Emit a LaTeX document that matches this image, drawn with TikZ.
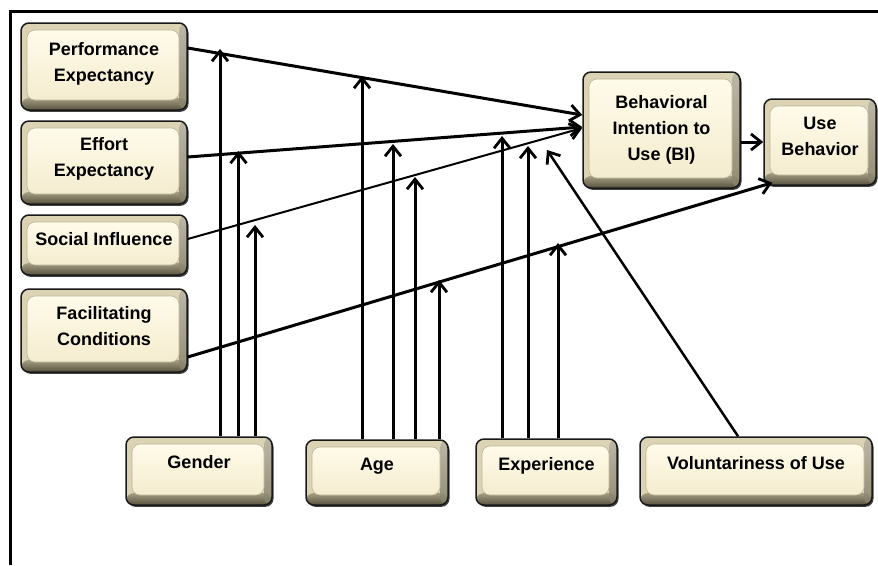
\documentclass[tikz,border=0pt]{standalone}
\usepackage{fontspec}
\setmainfont{Liberation Sans}
\usetikzlibrary{arrows.meta,calc,shadows}
\definecolor{bevBase}{HTML}{DBD3B4}
\definecolor{bevDarkA}{HTML}{A69E84}
\definecolor{bevDarkB}{HTML}{57523F}
\definecolor{bevRight}{HTML}{868069}
\definecolor{faceTop}{HTML}{FFFBEA}
\definecolor{faceBot}{HTML}{F4ECCF}
\definecolor{faceEdge}{HTML}{BDB596}
\newcommand\lbl[2]{\raisebox{#1}[\height][\depth]{\begin{tabular}{@{}c@{}}#2\end{tabular}}}
\tikzset{
  box/.style={draw=black!90, line width=1.5pt, rounded corners=8pt, inner sep=0pt,
    fill=bevBase,
    drop shadow={shadow xshift=1.5pt, shadow yshift=-1.8pt, fill=black!75, opacity=1},
    font=\fontsize{18}{26}\selectfont\bfseries,
    path picture={
      \path (path picture bounding box.south west) coordinate (ppsw)
            (path picture bounding box.north east) coordinate (ppne);
      \fill[bevBase] (ppsw) rectangle (ppne);
      \shade[top color=bevDarkA, bottom color=bevDarkB] (ppsw) rectangle ([yshift=12pt]ppsw -| ppne);
      \shade[top color=bevRight!60, bottom color=bevRight, opacity=.85] ([xshift=-8pt]ppne) rectangle (ppsw -| ppne);
      \shade[top color=faceTop, bottom color=faceBot, draw=faceEdge, line width=.6pt]
        ([xshift=6pt,yshift=10pt]ppsw) rectangle ([xshift=-8pt,yshift=-7pt]ppne);
    }},
  arr/.style={line width=3pt, line cap=butt,
    -{Straight Barb[length=10pt,width=16pt,line width=2.8pt]}},
  thinarr/.style={arr, line width=2pt}
}
\begin{document}
\begin{tikzpicture}[x=1pt,y=-1pt]
\useasboundingbox (0,0) rectangle (878,565);
\fill[white] (0,0) rectangle (878,565);
\draw[line width=3pt] (878,11) -- (10.5,11) -- (10.5,565);

% left column
\node[box, minimum width=166pt, minimum height=87pt] (pe) at (104,66.5) {\lbl{3pt}{Performance\\Expectancy}};
\node[box, minimum width=166pt, minimum height=83pt] (ee) at (104,162.5) {\lbl{4pt}{Effort\\Expectancy}};
\node[box, minimum width=166pt, minimum height=60pt] (si) at (104,245) {\lbl{5pt}{Social Influence}};
\node[box, minimum width=166pt, minimum height=83pt] (fc) at (104,330.5) {\lbl{3pt}{Facilitating\\Conditions}};

% right
\node[box, minimum width=157pt, minimum height=116pt] (bi) at (661.5,130) {\lbl{1pt}{Behavioral\\Intention to\\Use (BI)}};
\node[box, minimum width=112pt, minimum height=86pt] (ub) at (820,142) {\lbl{5pt}{Use\\Behavior}};

% moderators
\node[box, minimum width=146pt, minimum height=68pt] (gen) at (199,471) {\lbl{8pt}{Gender}};
\node[box, minimum width=142pt, minimum height=65pt] (age) at (377,472.5) {\lbl{7pt}{Age}};
\node[box, minimum width=141pt, minimum height=66pt] (exp) at (546.5,472) {\lbl{7pt}{Experience}};
\node[box, minimum width=232pt, minimum height=68pt] (vol) at (756,471) {\lbl{7pt}{Voluntariness of Use}};

% main paths
\draw[arr] ($(pe.east)+(0,-18.5)$) -- ($(bi.west)+(0,-15)$);
\draw[arr] ($(ee.east)+(0,-5.5)$) -- ($(bi.west)+(0,-3)$);
\draw[thinarr] ($(si.east)+(0,-6)$) -- ($(bi.west)+(0,-2)$);
\draw[arr] ($(fc.east)+(0,26.5)$) -- ($(ub.south west)+(9,-3)$);
\draw[arr] (bi.east |- ub.west) -- (ub.west);

% moderator tips
\coordinate (tg1) at (220,49);
\coordinate (tg2) at (238.5,151);
\coordinate (tg3) at (255,225);
\coordinate (ta1) at (362,76);
\coordinate (ta2) at (393,144);
\coordinate (ta3) at (415,177);
\coordinate (ta4) at (439,280);
\coordinate (te1) at (502,136);
\coordinate (te2) at (528,146);
\coordinate (te3) at (558,243);
\coordinate (tv) at (547,150);

\foreach \t in {tg1,tg2,tg3} \draw[arr] (gen.north -| \t) -- (\t);
\foreach \t in {ta1,ta2,ta3,ta4} \draw[arr] (age.north -| \t) -- (\t);
\foreach \t in {te1,te2,te3} \draw[arr] (exp.north -| \t) -- (\t);
\draw[arr, line width=2.5pt] ($(vol.north)+(-18,0)$) -- (tv);
\end{tikzpicture}
\end{document}
